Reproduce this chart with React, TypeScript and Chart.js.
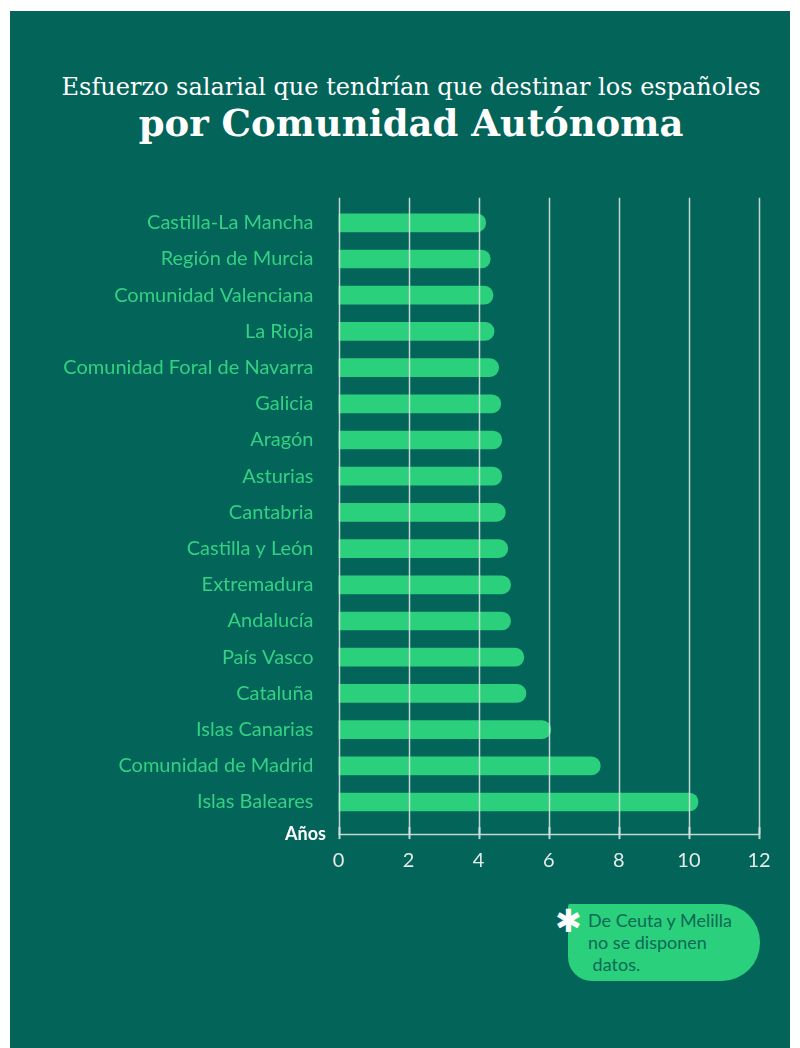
import React, { useEffect, useRef } from "react";
import { Chart, registerables } from "chart.js";

Chart.register(...registerables);

const categories: string[] = [
  "Castilla-La Mancha",
  "Región de Murcia",
  "Comunidad Valenciana",
  "La Rioja",
  "Comunidad Foral de Navarra",
  "Galicia",
  "Aragón",
  "Asturias",
  "Cantabria",
  "Castilla y León",
  "Extremadura",
  "Andalucía",
  "País Vasco",
  "Cataluña",
  "Islas Canarias",
  "Comunidad de Madrid",
  "Islas Baleares",
];

const years: number[] = [
  4.2, 4.33, 4.41, 4.44, 4.57, 4.63, 4.66, 4.66, 4.76, 4.83, 4.91, 4.91, 5.29,
  5.35, 6.06, 7.47, 10.26,
];

const xTicks: number[] = [0, 2, 4, 6, 8, 10, 12];

const BG = "#03645a";
const BAR = "#2bd07c";
const LABEL = "#33d182";
const GRID = "rgba(214,226,222,0.9)";

const gridPlugin = {
  id: "customGrid",
  afterDatasetsDraw(chart: any) {
    const { ctx, chartArea, scales } = chart;
    const xs = scales.x;
    const top = chartArea.top - 7;
    const axisY = chartArea.bottom + 14;
    ctx.save();
    ctx.strokeStyle = GRID;
    ctx.lineWidth = 1.5;
    xTicks.forEach((v) => {
      const x = Math.round(xs.getPixelForValue(v)) + 0.5;
      ctx.beginPath();
      ctx.moveTo(x, top);
      ctx.lineTo(x, axisY);
      ctx.stroke();
    });
    ctx.beginPath();
    ctx.moveTo(xs.getPixelForValue(xTicks[0]), axisY + 0.5);
    ctx.lineTo(xs.getPixelForValue(xTicks[xTicks.length - 1]), axisY + 0.5);
    ctx.stroke();
    ctx.lineWidth = 2;
    xTicks.forEach((v) => {
      const x = Math.round(xs.getPixelForValue(v)) + 0.5;
      ctx.beginPath();
      ctx.moveTo(x, axisY - 7);
      ctx.lineTo(x, axisY + 5);
      ctx.stroke();
    });
    ctx.restore();
  },
};

function BarChart() {
  const ref = useRef<HTMLCanvasElement | null>(null);
  useEffect(() => {
    if (!ref.current) return;
    const chart = new Chart(ref.current, {
      type: "bar",
      data: {
        labels: categories,
        datasets: [
          {
            data: years,
            backgroundColor: BAR,
            borderRadius: 10,
            borderSkipped: "start",
            barThickness: 18,
          },
        ],
      },
      options: {
        indexAxis: "y",
        animation: false,
        responsive: false,
        maintainAspectRatio: false,
        layout: { padding: { top: 23.7, right: 31, left: 0, bottom: 0 } },
        plugins: {
          legend: { display: false },
          tooltip: { enabled: false },
          title: { display: false },
        },
        scales: {
          x: {
            type: "linear",
            min: 0,
            max: 12,
            afterFit: (s: any) => {
              s.height = 80.9;
              s.paddingLeft = 0;
              s.paddingRight = 0;
              s.paddingTop = 0;
              s.paddingBottom = 0;
            },
            afterBuildTicks: (s: any) => {
              s.ticks = xTicks.map((v) => ({ value: v }));
            },
            grid: { display: false, drawTicks: false, tickLength: 0 },
            border: { display: false },
            ticks: {
              color: "#e3ece8",
              font: { family: "Lato", size: 20 },
              padding: 28,
            },
          },
          y: {
            afterFit: (s: any) => {
              s.width = 328.5;
              s.paddingLeft = 0;
              s.paddingRight = 0;
              s.paddingTop = 0;
              s.paddingBottom = 0;
            },
            grid: { display: false, drawTicks: false, tickLength: 0 },
            border: { display: false },
            ticks: {
              color: LABEL,
              font: { family: "Lato", size: 20 },
              padding: 25,
              autoSkip: false,
            },
          },
        },
      },
      plugins: [gridPlugin],
    });
    return () => chart.destroy();
  }, []);
  return (
    <canvas
      ref={ref}
      width={780}
      height={720}
      style={{ position: "absolute", left: 0, top: 170, width: 780, height: 720 }}
    />
  );
}

export default function App() {
  return (
    <div
      style={{
        position: "absolute",
        left: 10,
        top: 11,
        width: 780,
        height: 1037,
        background: BG,
        overflow: "hidden",
      }}
    >
      <div
        style={{
          position: "absolute",
          left: 11,
          top: 0,
          width: 780,
          textAlign: "center",
          color: "#ffffff",
          fontFamily: "'DejaVu Serif', serif",
        }}
      >
        <div style={{ position: "absolute", top: 58, width: "100%", fontSize: 24, lineHeight: "36px" }}>
          Esfuerzo salarial que tendrían que destinar los españoles
        </div>
        <div
          style={{
            position: "absolute",
            top: 88,
            width: "100%",
            fontSize: 37,
            fontWeight: 700,
            lineHeight: "48px",
          }}
        >
          por Comunidad Autónoma
        </div>
      </div>
      <BarChart />
      <div
        style={{
          position: "absolute",
          left: 262,
          top: 811,
          width: 54,
          textAlign: "right",
          color: "#ffffff",
          fontFamily: "Lato, sans-serif",
          fontWeight: 700,
          fontSize: 18,
          lineHeight: "22px",
        }}
      >
        Años
      </div>
      <div
        style={{
          position: "absolute",
          left: 558,
          top: 893,
          width: 192,
          height: 77,
          background: BAR,
          borderRadius: "2px 38px 38px 24px",
        }}
      >
        <div
          style={{
            position: "absolute",
            left: 20,
            top: 5,
            color: "#0a6a55",
            fontFamily: "Lato, sans-serif",
            fontSize: 18,
            lineHeight: "22px",
            whiteSpace: "pre",
          }}
        >
          {"De Ceuta y Melilla\nno se disponen\n datos."}
        </div>
      </div>
      <div
        style={{
          position: "absolute",
          left: 545,
          top: 891,
          color: "#ffffff",
          fontFamily: "'DejaVu Sans', sans-serif",
          fontSize: 32,
          lineHeight: "38px",
          fontWeight: 700,
        }}
      >
        ✱
      </div>
    </div>
  );
}
